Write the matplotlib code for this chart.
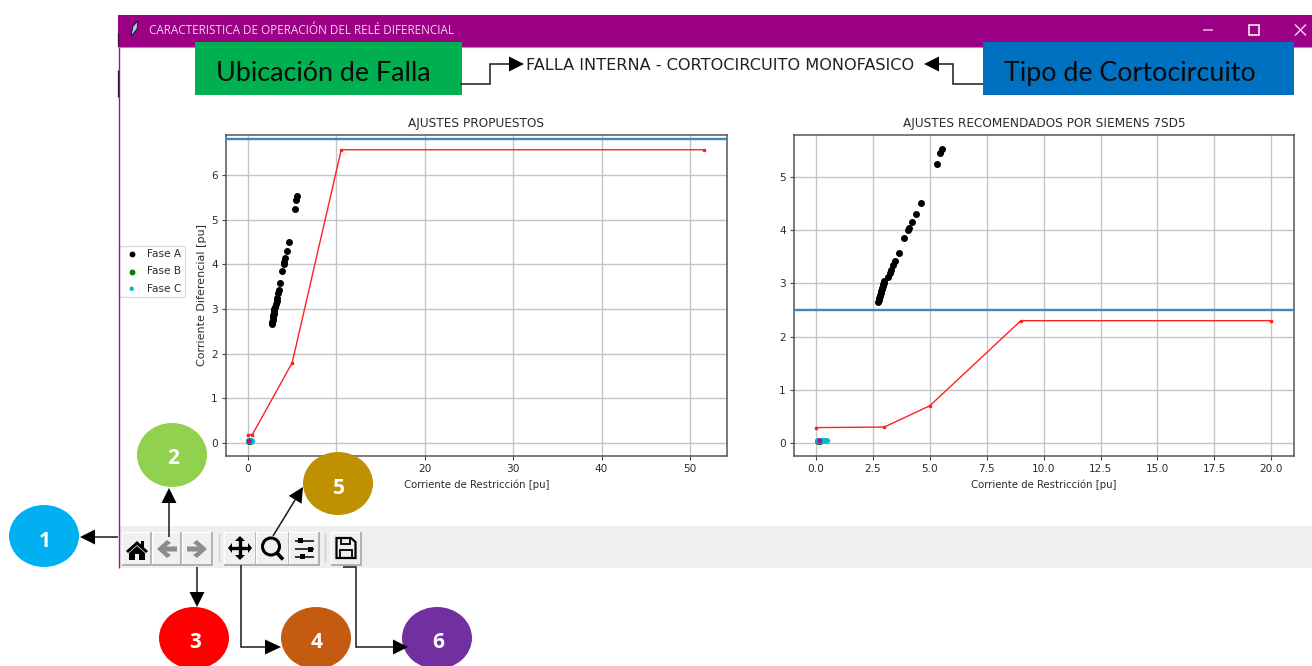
import matplotlib
matplotlib.use("Agg")
import matplotlib.pyplot as plt
from matplotlib.patches import Rectangle, Ellipse, Polygon
import numpy as np

W, H = 1312, 666

# ---------- data ----------
fase_a_x = [2.72, 2.75, 2.77, 2.80, 2.82, 2.84, 2.87, 2.89, 2.91, 2.93, 2.96, 2.98, 3.00,
            3.16, 3.24, 3.31, 3.38, 3.49, 3.66, 3.88, 4.03, 4.10, 4.23, 4.38, 4.60, 5.32, 5.46, 5.54]
fase_a_y = [2.66, 2.69, 2.72, 2.76, 2.79, 2.82, 2.86, 2.89, 2.92, 2.95, 2.98, 3.01, 3.04,
            3.12, 3.19, 3.26, 3.35, 3.43, 3.58, 3.85, 4.00, 4.05, 4.15, 4.30, 4.51, 5.25, 5.45, 5.53]
fase_b_x = [0.08, 0.12, 0.18]
fase_b_y = [0.04, 0.04, 0.04]
fase_c_x = [0.08, 0.15, 0.22, 0.30, 0.38, 0.46, 0.50]
fase_c_y = [0.04, 0.04, 0.04, 0.04, 0.04, 0.04, 0.04]
extra_x = [0.16]
extra_y = [0.04]

prop_x = [0.0, 0.5, 5.0, 10.55, 51.6]
prop_y = [0.19, 0.19, 1.8, 6.57, 6.57]
prop_limit = 6.8
prop_xticks = [0, 10, 20, 30, 40, 50]
prop_yticks = [0, 1, 2, 3, 4, 5, 6]

siem_x = [0.0, 3.0, 5.0, 9.0, 20.0]
siem_y = [0.29, 0.3, 0.7, 2.3, 2.3]
siem_limit = 2.5
siem_xticks = [0.0, 2.5, 5.0, 7.5, 10.0, 12.5, 15.0, 17.5, 20.0]
siem_yticks = [0, 1, 2, 3, 4, 5]

legend_labels = ["Fase A", "Fase B", "Fase C"]
title_left = "AJUSTES PROPUESTOS"
title_right = "AJUSTES RECOMENDADOS POR SIEMENS 7SD5"
xlabel = "Corriente de Restricción [pu]"
ylabel = "Corriente Diferencial [pu]"
window_title = "CARACTERISTICA DE OPERACIÓN DEL RELÉ DIFERENCIAL"
heading = "FALLA INTERNA - CORTOCIRCUITO MONOFASICO"
box_left = "Ubicación de Falla"
box_right = "Tipo de Cortocircuito"

TXT = "#2b2b2b"
FS = 7.4

fig = plt.figure(figsize=(W / 100, H / 100), dpi=100, facecolor="white")


def axes_px(x0, x1, y0, y1, **kw):
    return fig.add_axes([x0 / W, 1 - y1 / H, (x1 - x0) / W, (y1 - y0) / H], **kw)


def style(ax, xs, ys, xt, yt, limit, xlim, ylim, title):
    ax.set_axisbelow(True)
    ax.grid(True, color="#c4c4c4", lw=1.0)
    ax.scatter(fase_a_x, fase_a_y, s=16, c="k", label=legend_labels[0], zorder=3)
    ax.scatter(fase_b_x, fase_b_y, s=16, c="g", label=legend_labels[1], zorder=3)
    ax.scatter(fase_c_x, fase_c_y, s=16, c="#00bfbf", edgecolors="none", label=legend_labels[2], zorder=3)
    ax.scatter(extra_x, extra_y, s=14, c="m", edgecolors="none", zorder=4)
    ax.plot(xs, ys, color="#ff2020", lw=1.0, marker="s", ms=1.8, zorder=3)
    ax.axhline(limit, color="#3f86bd", lw=1.7, zorder=3)
    ax.set_xticks(xt)
    ax.set_yticks(yt)
    ax.set_xlim(*xlim)
    ax.set_ylim(*ylim)
    ax.tick_params(labelsize=FS + 0.2, labelcolor=TXT, color="#444444", length=3, width=0.8, pad=3)
    for s in ax.spines.values():
        s.set_color("#555555")
        s.set_linewidth(1.1)
    ax.set_title(title, fontsize=8.75, color=TXT, pad=6)
    ax.set_xlabel(xlabel, fontsize=7.3, color=TXT, labelpad=4)


ax1 = axes_px(226, 727, 135, 456, zorder=1)
style(ax1, prop_x, prop_y, prop_xticks, prop_yticks, prop_limit, (-2.49, 54.2), (-0.29, 6.9), title_left)
ax1.set_ylabel(ylabel, fontsize=8.0, color=TXT, labelpad=3)
ax1.set_xticklabels([str(v) for v in prop_xticks])
leg = ax1.legend(loc="upper left", bbox_to_anchor=(119 / W, 1 - 245.5 / H), bbox_transform=fig.transFigure,
                 fontsize=FS + 0.2, borderaxespad=0, labelcolor=TXT, framealpha=1, edgecolor="#dddddd",
                 borderpad=0.35, labelspacing=0.68, handletextpad=0.6, handlelength=1.7, markerscale=0.8, fancybox=True)

ax2 = axes_px(794, 1294, 135, 456, zorder=1)
style(ax2, siem_x, siem_y, siem_xticks, siem_yticks, siem_limit, (-0.967, 21.0), (-0.244, 5.79), title_right)

# ---------- annotation overlay, in pixel coordinates ----------
ov = fig.add_axes([0, 0, 1, 1], zorder=5, facecolor="none")
ov.set_xlim(0, W)
ov.set_ylim(H, 0)
ov.axis("off")


def rect(x0, y0, x1, y1, fc, ec="none", lw=0, z=2):
    ov.add_patch(Rectangle((x0, y0), x1 - x0, y1 - y0, fc=fc, ec=ec, lw=lw, zorder=z))


def seg(xs, ys, c="#1a1a1a", lw=1.1, z=6, **kw):
    ov.plot(xs, ys, color=c, lw=lw, zorder=z, solid_capstyle="butt", solid_joinstyle="miter", **kw)


def arrow(xs, ys, base, half=7.5):
    """polyline whose last point is the tip; base is the distance from tip to head base"""
    p0 = np.array([xs[-2], ys[-2]], float)
    p1 = np.array([xs[-1], ys[-1]], float)
    d = (p1 - p0) / np.hypot(*(p1 - p0))
    n = np.array([-d[1], d[0]])
    b = p1 - d * base
    seg(list(xs[:-1]) + [b[0]], list(ys[:-1]) + [b[1]])
    ov.add_patch(Polygon([p1, b + n * half, b - n * half], fc="black", ec="none", zorder=7))


# window chrome
rect(118, 15, W, 47, "#9b0085")
seg([118, W], [47.3, 47.3], c="#d070c8", lw=0.8, z=3)
seg([118.5, 118.5], [47, 568], c="#a5109c", lw=1.0, z=3)
seg([117.6, 117.6], [33, 46], c="#30102a", lw=0.9, z=3)
seg([117.6, 117.6], [70, 97], c="#30102a", lw=0.9, z=3)
ov.text(149, 30.5, window_title, fontsize=8.45, family="Open Sans", color="#f3d3ee", va="center", ha="left", zorder=4)
ov.add_patch(Polygon([(131, 36), (133, 26), (138, 21), (137, 29), (133, 34)], fc="#9fd0ea", ec="#111111", lw=0.6, zorder=4))
seg([1203, 1213], [30, 30], c="#e9b9e2", lw=1.1)
rect(1249, 25, 1259, 35, "none", ec="white", lw=1.1, z=4)
seg([1295, 1306], [24.5, 35.5], c="#f0c8ea", lw=1.1)
seg([1295, 1306], [35.5, 24.5], c="#f0c8ea", lw=1.1)

# coloured boxes and heading
rect(195, 42, 462, 95, "#00b050", z=4)
rect(983, 42, 1294, 95, "#0070c0", z=4)
ov.text(216, 73.5, box_left, fontsize=19.4, family="Lato", color="#0b0b0b", va="center", ha="left", zorder=5)
ov.text(1004, 73.5, box_right, fontsize=19.4, family="Lato", color="#0b0b0b", va="center", ha="left", zorder=5)
ov.text(526, 65, heading, fontsize=11.65, color="#202020", va="center", ha="left", zorder=5)

arrow([460, 490, 490, 524], [84, 84, 64, 64], 15)
arrow([983, 953, 953, 924], [84, 84, 64, 64], 15)

# toolbar
rect(119, 526, W, 568, "#efefef")


def button(x0, x1, y0=532, y1=565):
    rect(x0, y0, x1, y1, "#f0f0f0", z=3)
    seg([x0, x0, x1], [y1, y0, y0], c="#ffffff", lw=0.9, z=3)
    seg([x0, x1, x1], [y1, y1, y0], c="#a0a0a0", lw=1.1, z=3)


for a, b in [(122, 151), (152, 181), (182, 212), (224, 256), (256, 289), (289, 319), (331, 361)]:
    button(a, b)
seg([218.5, 218.5], [533, 562], c="#d0d0d0", lw=1)
seg([324.5, 324.5], [533, 562], c="#d0d0d0", lw=1)

# home icon
ov.add_patch(Polygon([(126, 551), (137, 541), (141, 544.5), (141, 541), (144, 541), (144, 547.5), (148, 551), (146, 553),
                      (137, 545), (128, 553)], fc="black", zorder=4))
ov.add_patch(Polygon([(129, 553), (137, 546), (145, 553), (145, 560), (139, 560), (139, 554), (135, 554), (135, 560), (129, 560)],
                     fc="black", zorder=4))
# back / forward icons
ov.add_patch(Polygon([(157, 549), (167, 540), (171, 543), (166, 546.5), (177, 546.5), (177, 551.5), (166, 551.5), (171, 555), (167, 558)],
                     fc="#8c8c8c", zorder=4))
ov.add_patch(Polygon([(207, 549), (197, 540), (193, 543), (198, 546.5), (187, 546.5), (187, 551.5), (198, 551.5), (193, 555), (197, 558)],
                     fc="#8c8c8c", zorder=4))
# pan icon
seg([231, 249], [548, 548], c="black", lw=2.4, z=4)
seg([240, 240], [539, 557], c="black", lw=2.4, z=4)
for tri in ([(232, 543), (232, 553), (228, 548)], [(248, 543), (248, 553), (252, 548)],
            [(235, 541), (245, 541), (240, 536)], [(235, 555), (245, 555), (240, 560)]):
    ov.add_patch(Polygon(tri, fc="black", zorder=4))
# zoom icon
ov.add_patch(Ellipse((271, 546.5), 17, 17, fc="none", ec="black", lw=2.2, zorder=4))
seg([277, 283], [553, 559.5], c="black", lw=2.6, z=4)
# configure icon
for yy, xx in [(540.5, 300), (549, 310), (556.5, 302)]:
    seg([295, 314], [yy, yy], c="black", lw=1.1, z=4)
    rect(xx - 2.5, yy - 2.5, xx + 2.5, yy + 2.5, "black", z=5)
# save icon
ov.add_patch(Polygon([(336.5, 538), (351, 538), (355.5, 542), (355.5, 558), (336.5, 558)], fc="none", ec="black", lw=1.6, zorder=4))
rect(341, 538, 350, 544, "none", ec="black", lw=1.3, z=4)
rect(340, 550, 352, 558, "none", ec="black", lw=1.3, z=4)

# numbered callouts
callouts = [("1", 44, 536, 70, 62, "#00b0f0", 45, 541.5),
            ("2", 172, 455, 70, 64, "#92d050", 173, 458.5),
            ("3", 194, 638, 70, 62, "#ff0000", 195, 642.5),
            ("4", 316, 638, 70, 62, "#c55a11", 317, 642.5),
            ("5", 338, 483.5, 70, 63, "#bf9000", 339, 488),
            ("6", 437, 638, 70, 62, "#7030a0", 438, 642.5)]
for label, cx, cy, w, h, col, tx, ty in callouts:
    ov.add_patch(Ellipse((cx, cy), w, h, fc=col, ec="none", zorder=5))
    ov.text(tx, ty, label, fontsize=15, family="Open Sans", fontweight="bold", color="white", ha="center", va="center", zorder=6)

arrow([118, 80], [537, 537], 15)
arrow([169, 169], [537, 488], 15)
arrow([197, 197], [567, 607], 15)
arrow([241, 241, 281], [565, 647, 647], 16)
arrow([273, 303], [536, 487], 15)
arrow([343, 356, 356, 408], [566.5, 566.5, 647, 647], 15)

fig.savefig("out.png", dpi=100, facecolor="white")
